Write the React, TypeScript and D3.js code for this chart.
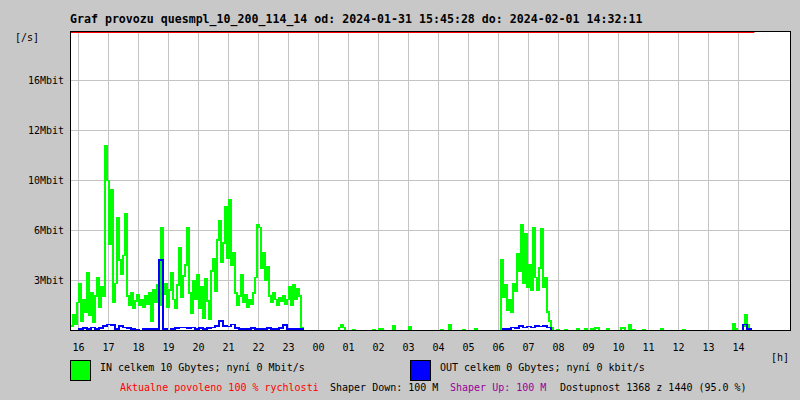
import React, { useEffect, useRef } from "react";
import * as d3 from "d3";

const title =
  "Graf provozu quesmpl_10_200_114_14 od: 2024-01-31 15:45:28 do: 2024-02-01 14:32:11";
const startTime = new Date(2024, 0, 31, 15, 45, 28);
const endTime = new Date(2024, 1, 1, 14, 32, 11);

// sample spacing in minutes
const inStepMin = 4;
const outStepMin = 8;

const yTickValues = [3.2, 6.4, 9.6, 12.8, 16];
const yTickLabels = ["3Mbit", "6Mbit", "10Mbit", "12Mbit", "16Mbit"];

// IN traffic, Mbit/s, one value every 4 minutes from 15:45
const inMbit = [
  0.3, 1.0, 0.4, 1.8, 3.0, 0.6, 2.0, 1.2, 3.7, 1.0, 2.4, 0.5, 2.2, 3.4, 1.5,
  2.8, 2.2, 11.8, 9.6, 5.5, 9.0, 1.8, 3.0, 7.2, 4.5, 3.6, 4.8, 7.5, 2.2, 1.6,
  2.4, 1.4, 1.9, 2.3, 1.6, 2.0, 1.5, 2.2, 1.7, 2.4, 0.6, 2.6, 1.8, 2.9, 1.6,
  6.6, 2.3, 3.0, 1.5, 2.6, 3.7, 2.0, 1.4, 2.9, 5.3, 2.1, 3.5, 4.2, 6.6, 2.4,
  1.1, 3.2, 2.0, 3.6, 1.4, 2.8, 0.8, 3.3, 1.9, 0.7, 3.8, 4.6, 2.5, 5.8, 7.0,
  4.4, 5.6, 7.9, 4.6, 8.4, 4.2, 5.0, 2.4, 1.6, 2.2, 3.6, 1.8, 2.3, 1.5, 2.0,
  1.7, 2.4, 3.4, 6.8, 6.6, 4.0, 5.0, 3.2, 4.1, 2.2, 1.8, 2.4, 2.0, 1.6, 2.1,
  1.9, 2.2, 1.7, 2.0, 2.8, 1.6, 2.9, 2.0, 2.7, 2.2, 0.2, 0, 0, 0, 0,
  0, 0, 0, 0, 0, 0, 0, 0, 0, 0, 0, 0, 0, 0, 0.2,
  0.4, 0.2, 0, 0, 0, 0, 0.05, 0, 0, 0, 0, 0, 0, 0, 0,
  0, 0.05, 0, 0, 0.1, 0.1, 0, 0, 0, 0, 0, 0.3, 0, 0, 0,
  0, 0, 0, 0, 0.25, 0, 0, 0, 0, 0, 0, 0, 0, 0, 0,
  0, 0, 0, 0, 0, 0.05, 0, 0, 0, 0.4, 0, 0, 0, 0, 0,
  0, 0.05, 0, 0, 0, 0, 0, 0.1, 0, 0, 0, 0, 0, 0, 0,
  0, 0, 0, 0, 0, 4.5, 2.1, 2.9, 1.3, 2.0, 1.2, 3.0, 2.5, 4.9, 3.8,
  6.8, 3.0, 6.2, 2.8, 4.2, 2.6, 6.6, 3.4, 2.6, 4.0, 6.5, 2.8, 3.4, 1.2, 0.6,
  0.2, 0, 0, 0.05, 0, 0, 0, 0.05, 0, 0, 0, 0, 0, 0.1, 0,
  0, 0, 0.1, 0, 0, 0.1, 0, 0.15, 0.15, 0, 0, 0, 0, 0.1, 0,
  0, 0, 0, 0, 0, 0.15, 0.15, 0, 0, 0.35, 0, 0.05, 0, 0, 0,
  0, 0.05, 0, 0, 0, 0, 0, 0, 0, 0, 0.1, 0, 0, 0, 0,
  0, 0, 0, 0, 0, 0, 0.05, 0, 0, 0, 0, 0, 0, 0, 0,
  0, 0, 0, 0, 0, 0, 0, 0, 0, 0, 0, 0, 0, 0, 0,
  0, 0.45, 0.1, 0, 0, 0, 0.3, 1.0, 0.4, 0, 0, 0,
];

// OUT traffic, Mbit/s, one value every 8 minutes
const outMbit = [
  0, 0, 0.1, 0.15, 0.1, 0.2, 0.1, 0.15, 0.3, 0.4, 0.35, 0.1, 0.3, 0.2, 0.15,
  0.1, 0.05, 0, 0.1, 0.1, 0.1, 0.1, 4.5, 0.1, 0, 0.1, 0.15, 0.2, 0.2, 0.15,
  0.2, 0.1, 0.15, 0.1, 0.15, 0.2, 0.3, 0.6, 0.3, 0.25, 0.4, 0.15, 0.1, 0.1, 0.1,
  0.15, 0.1, 0.1, 0.1, 0.15, 0.1, 0.1, 0.15, 0.35, 0.1, 0.1, 0.1, 0.1,
  0, 0, 0, 0, 0, 0, 0, 0, 0, 0, 0, 0, 0, 0, 0, 0, 0, 0, 0, 0, 0, 0, 0, 0, 0,
  0, 0, 0, 0, 0, 0, 0, 0, 0, 0, 0, 0, 0, 0, 0, 0, 0, 0, 0, 0, 0, 0, 0, 0, 0,
  0.1, 0.1, 0.2, 0.15, 0.3, 0.2, 0.25, 0.2, 0.3, 0.25, 0.3, 0.2,
  0, 0, 0, 0, 0, 0, 0, 0, 0, 0, 0, 0, 0, 0, 0, 0, 0, 0, 0, 0, 0, 0, 0, 0,
  0, 0, 0, 0, 0, 0, 0, 0, 0, 0, 0, 0, 0, 0, 0, 0, 0, 0, 0, 0, 0, 0, 0, 0,
  0.4, 0.1, 0,
];

const legendIn = "IN celkem 10 Gbytes; nyní 0 Mbit/s";
const legendOut = "OUT celkem 0 Gbytes; nyní 0 kbit/s";
const footer = [
  { text: "Aktualne povoleno 100 % rychlosti", color: "#ff0000", x: 120 },
  { text: "Shaper Down: 100 M", color: "#000000", x: 330 },
  { text: "Shaper Up: 100 M", color: "#990099", x: 450 },
  { text: "Dostupnost 1368 z 1440 (95.0 %)", color: "#000000", x: 560 },
];

const App: React.FC = () => {
  const chartRef = useRef<HTMLDivElement>(null);

  useEffect(() => {
    if (!chartRef.current) return;

    const width = 800;
    const height = 400;

    d3.select(chartRef.current).selectAll("*").remove();

    const svg = d3
      .select(chartRef.current)
      .append("svg")
      .attr("width", width)
      .attr("height", height)
      .style("display", "block")
      .attr("font-family", "'DejaVu Sans Mono', monospace");

    svg.append("rect").attr("width", width).attr("height", height).attr("fill", "#c8c8c8");

    const x = d3
      .scaleTime()
      .domain([startTime, d3.timeHour.offset(startTime, 24)])
      .range([71, 791]);
    const y = d3.scaleLinear().domain([0, 16]).range([330.5, 80.5]);
    const px = (v: number) => Math.floor(v) + 0.5;

    // plot area
    svg
      .append("rect")
      .attr("x", 70.5)
      .attr("y", 31.5)
      .attr("width", 720)
      .attr("height", 299)
      .attr("fill", "#ffffff");

    const hours = d3.timeHour.range(d3.timeHour.ceil(startTime), endTime);

    svg
      .append("g")
      .selectAll("line")
      .data(hours)
      .enter()
      .append("line")
      .attr("x1", (d) => px(x(d)))
      .attr("x2", (d) => px(x(d)))
      .attr("y1", 32)
      .attr("y2", 330)
      .attr("stroke", "#c4c4c4");

    svg
      .append("g")
      .selectAll("line")
      .data(yTickValues)
      .enter()
      .append("line")
      .attr("x1", 65)
      .attr("x2", 790)
      .attr("y1", (d) => px(y(d)))
      .attr("y2", (d) => px(y(d)))
      .attr("stroke", "#c4c4c4");

    // red line along the top for the measured period
    svg
      .append("line")
      .attr("x1", 71)
      .attr("x2", x(endTime))
      .attr("y1", 32.5)
      .attr("y2", 32.5)
      .attr("stroke", "#ff0000");

    const inLine = d3
      .line<number>()
      .x((d, i) => x(d3.timeMinute.offset(startTime, i * inStepMin)))
      .y((d) => y(d))
      .curve(d3.curveStepAfter);

    const outLine = d3
      .line<number>()
      .x((d, i) => x(d3.timeMinute.offset(startTime, i * outStepMin)))
      .y((d) => y(d))
      .curve(d3.curveStepAfter);

    svg
      .append("path")
      .attr("d", inLine(inMbit))
      .attr("fill", "none")
      .attr("stroke", "#00ff00")
      .attr("stroke-width", 1.5)
      .attr("shape-rendering", "crispEdges");

    svg
      .append("path")
      .attr("d", outLine(outMbit))
      .attr("fill", "none")
      .attr("stroke", "#0000ff")
      .attr("stroke-width", 1.5)
      .attr("shape-rendering", "crispEdges");

    // frame
    svg
      .append("rect")
      .attr("x", 70.5)
      .attr("y", 31.5)
      .attr("width", 720)
      .attr("height", 299)
      .attr("fill", "none")
      .attr("stroke", "#000")
      .attr("shape-rendering", "crispEdges");

    svg
      .append("text")
      .attr("x", 70)
      .attr("y", 19)
      .attr("dy", "0.35em")
      .attr("font-size", 11.6)
      .attr("font-weight", "bold")
      .text(title);

    svg
      .append("text")
      .attr("x", 15)
      .attr("y", 37)
      .attr("dy", "0.35em")
      .attr("font-size", 10)
      .text("[/s]");

    svg
      .append("g")
      .selectAll("text")
      .data(yTickValues)
      .enter()
      .append("text")
      .attr("x", 64)
      .attr("y", (d) => px(y(d)))
      .attr("dy", "0.35em")
      .attr("text-anchor", "end")
      .attr("font-size", 10)
      .text((d, i) => yTickLabels[i]);

    svg
      .append("g")
      .selectAll("text")
      .data(hours)
      .enter()
      .append("text")
      .attr("x", (d) => px(x(d)))
      .attr("y", 347)
      .attr("dy", "0.35em")
      .attr("text-anchor", "middle")
      .attr("font-size", 10)
      .text((d) => d3.timeFormat("%H")(d));

    svg
      .append("text")
      .attr("x", 771)
      .attr("y", 357)
      .attr("dy", "0.35em")
      .attr("font-size", 10)
      .text("[h]");

    // legend
    const legend = [
      { color: "#00ff00", x: 70, text: legendIn },
      { color: "#0000ff", x: 410, text: legendOut },
    ];
    legend.forEach((l) => {
      svg
        .append("rect")
        .attr("x", l.x + 0.5)
        .attr("y", 360.5)
        .attr("width", 20)
        .attr("height", 20)
        .attr("fill", l.color)
        .attr("stroke", "#000")
        .attr("shape-rendering", "crispEdges");
      svg
        .append("text")
        .attr("x", l.x + 30)
        .attr("y", 367)
        .attr("dy", "0.35em")
        .attr("font-size", 10)
        .text(l.text);
    });

    footer.forEach((f) => {
      svg
        .append("text")
        .attr("x", f.x)
        .attr("y", 387)
        .attr("dy", "0.35em")
        .attr("font-size", 10)
        .attr("fill", f.color)
        .text(f.text);
    });
  }, []);

  return <div style={{ position: "absolute", left: 0, top: 0 }} ref={chartRef}></div>;
};

export default App;
